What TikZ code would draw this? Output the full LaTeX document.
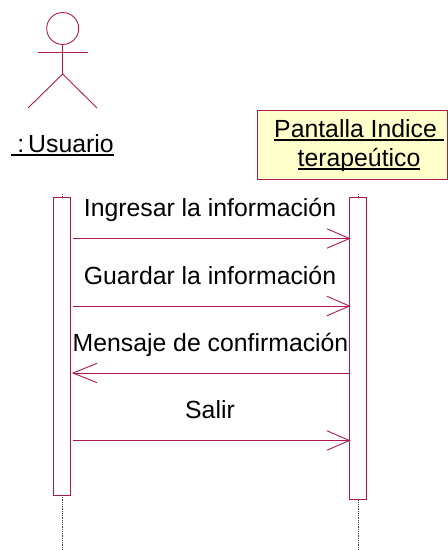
\documentclass[tikz,border=0pt]{standalone}
\usepackage{fontspec}
\setmainfont{Liberation Sans}
\definecolor{umlline}{HTML}{B0184E}
\definecolor{umlfill}{HTML}{FFFFCC}
\newcommand{\ulbl}[1]{\leavevmode\setbox0=\hbox{#1}\rlap{\rule[-3.5pt]{\wd0}{1.1pt}}\box0 }
\tikzset{
  umlstroke/.style={draw=umlline,line width=0.9pt},
  activation/.style={umlstroke,fill=white,rectangle,inner sep=0pt,minimum width=17.5pt,anchor=north},
  objectbox/.style={umlstroke,fill=umlfill,rectangle,inner sep=0pt,align=center,minimum width=190.5pt,minimum height=69.5pt,anchor=north west},
  msg/.style={font=\fontsize{24.8}{29}\selectfont,anchor=base,inner sep=0pt},
  lifeline/.style={draw=black!75,line width=0.8pt,dash pattern=on 1pt off 0.8pt},
  message/.style={umlstroke},
}
\begin{document}
\begin{tikzpicture}[x=1pt,y=-1pt]
\useasboundingbox (0,0) rectangle (447,551);
% actor
\node[circle,umlstroke,inner sep=0pt,minimum size=32pt] (head) at (62.7,28.5) {};
\coordinate (armL) at (37.5,52);
\coordinate (armR) at (88,52);
\coordinate (hip) at (62.7,74);
\coordinate (footL) at (28,108);
\coordinate (footR) at (97,108);
\draw[umlstroke] (armL) -- (armR);
\draw[umlstroke] (head.south) -- (hip);
\draw[umlstroke] (footL) -- (hip) -- (footR);
\node[msg] (usuario) at (62.5,152) {\ulbl{\hspace{6pt}:\hspace{4pt}Usuario}};
% object
\node[objectbox] (pantalla) at (256.5,109.5) {};
\node[msg] (pant1) at (359,137) {\ulbl{Pantalla Indice\ }};
\node[msg] (pant2) at (359,166) {\ulbl{terape\'utico}};
% lifelines
\coordinate (lEnd) at (62.7,551);
\coordinate (rEnd) at (358.7,551);
\coordinate (lTop) at (62.7,194);
\coordinate (rTop) at (358.7,194);
\node[activation,minimum height=298.5pt] (barL) at (61.8,196.5) {};
\node[activation,minimum height=302pt] (barR) at (358,196.5) {};
\draw[lifeline] (lTop) -- (62.7,196.5);
\draw[lifeline] (rTop) -- (358.7,196.5);
\draw[lifeline] (62.7,495) -- (lEnd);
\draw[lifeline] (358.7,498.5) -- (rEnd);
% messages
\foreach \n/\y in {a/238.5,b/306,d/440.5}{
  \coordinate (\n L) at (73,\y);
  \coordinate (\n R) at (349.5,\y);
  \coordinate (\n U) at (327,\y-9.7);
  \coordinate (\n D) at (327,\y+9.7);
  \draw[message] (\n L) -- (\n R);
  \draw[message] (\n U) -- (\n R) -- (\n D);
}
\coordinate (cL) at (73,373);
\coordinate (cR) at (349.5,373);
\coordinate (cU) at (97,363.3);
\coordinate (cD) at (97,382.7);
\draw[message] (cR) -- (cL);
\draw[message] (cU) -- (cL) -- (cD);
\node[msg] (m1) at (210,216.5) {Ingresar la información};
\node[msg] (m2) at (210,284) {Guardar la información};
\node[msg] (m3) at (210.5,351) {Mensaje de confirmación};
\node[msg] (m4) at (210,418) {Salir};
\end{tikzpicture}
\end{document}
